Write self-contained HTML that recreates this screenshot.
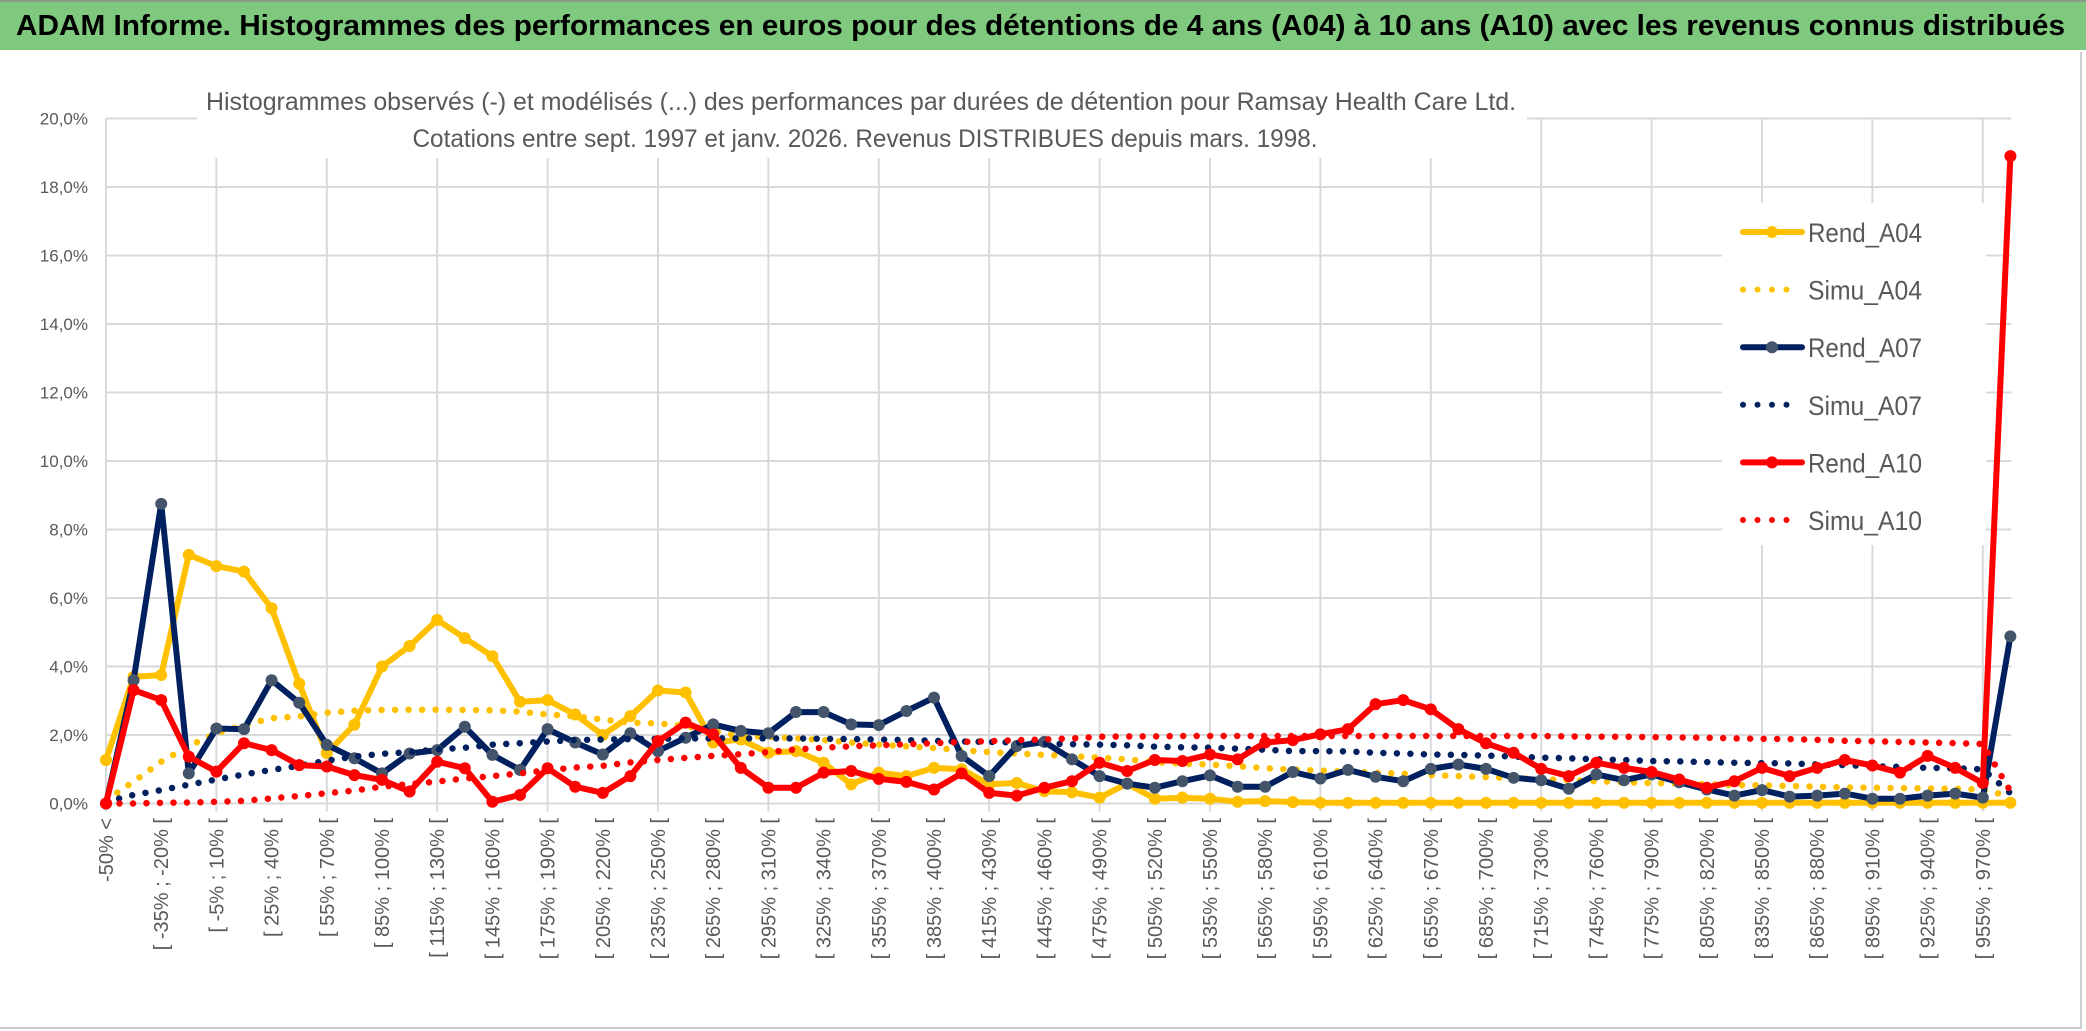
<!DOCTYPE html>
<html><head><meta charset="utf-8">
<style>
html,body{margin:0;padding:0;background:#fff;}
body{width:2086px;height:1031px;overflow:hidden;position:relative;font-family:"Liberation Sans",sans-serif;}
#titlebar{position:absolute;left:0;top:0;width:2086px;height:50px;background:#7ec97e;border-top:2px solid #8a9a8a;box-sizing:border-box;}
#chartbox{position:absolute;left:0;top:52px;width:2082px;height:977px;border-right:2px solid #d0d0d0;border-bottom:2px solid #c8c8c8;box-sizing:border-box;}
svg{position:absolute;left:0;top:0;}
</style></head>
<body>
<div id="titlebar"></div>
<div id="chartbox"></div>
<svg id="chart" width="2086" height="1031">
<text x="16" y="35" font-family="Liberation Sans, sans-serif" font-weight="bold" font-size="29" fill="#000" textLength="2049" lengthAdjust="spacingAndGlyphs">ADAM Informe. Histogrammes des performances en euros pour des détentions de 4 ans (A04) à 10 ans (A10) avec les revenus connus distribués</text>
</svg>
<script>
const categories = (function(){ const c=["-50% <"]; for(let i=1;i<70;i++){ if(i===69){c.push("> 970%");} else {const a=-50+15*(i-1); c.push("[ "+a+"% ; "+(a+15)+"% [");} } return c; })();
const yTicks = [0,2,4,6,8,10,12,14,16,18,20];
const yTickLabels = ["0,0%","2,0%","4,0%","6,0%","8,0%","10,0%","12,0%","14,0%","16,0%","18,0%","20,0%"];
const rendA04 = [1.27,3.7,3.75,7.26,6.93,6.77,5.7,3.5,1.47,2.3,4.0,4.6,5.36,4.83,4.3,2.97,3.02,2.6,2.0,2.55,3.3,3.24,1.78,1.87,1.48,1.53,1.19,0.56,0.9,0.8,1.04,1.0,0.56,0.6,0.36,0.33,0.17,0.58,0.14,0.17,0.14,0.05,0.07,0.04,0.02,0.02,0.02,0.02,0.02,0.02,0.02,0.02,0.02,0.02,0.02,0.02,0.02,0.02,0.02,0.02,0.02,0.02,0.02,0.02,0.02,0.02,0.02,0.02,0.02,0.02];
const simuA04 = [0.1,0.64,1.22,1.68,2.05,2.29,2.49,2.54,2.65,2.71,2.73,2.74,2.74,2.73,2.72,2.68,2.6,2.55,2.45,2.36,2.34,2.26,2.12,1.97,1.95,1.9,1.85,1.78,1.72,1.67,1.62,1.56,1.5,1.46,1.42,1.38,1.34,1.29,1.21,1.16,1.14,1.09,1.03,0.99,0.96,0.93,0.9,0.87,0.83,0.8,0.77,0.74,0.71,0.68,0.65,0.62,0.6,0.58,0.56,0.54,0.53,0.51,0.49,0.47,0.46,0.45,0.44,0.43,0.41,0.2];
const rendA07 = [0,3.6,8.75,0.88,2.19,2.17,3.6,2.94,1.71,1.32,0.88,1.46,1.56,2.24,1.42,0.98,2.17,1.78,1.43,2.05,1.53,1.92,2.31,2.12,2.05,2.67,2.67,2.31,2.29,2.7,3.09,1.39,0.8,1.68,1.8,1.29,0.8,0.58,0.46,0.65,0.82,0.49,0.49,0.92,0.73,0.98,0.78,0.65,1.01,1.14,1.01,0.75,0.68,0.43,0.85,0.68,0.85,0.62,0.41,0.23,0.39,0.2,0.23,0.29,0.14,0.14,0.23,0.29,0.17,4.88];
const simuA07 = [0.05,0.25,0.39,0.55,0.7,0.85,0.98,1.1,1.25,1.37,1.45,1.5,1.58,1.63,1.72,1.76,1.81,1.85,1.87,1.88,1.89,1.9,1.9,1.9,1.9,1.9,1.89,1.88,1.87,1.85,1.83,1.81,1.8,1.78,1.75,1.73,1.72,1.7,1.66,1.64,1.63,1.6,1.57,1.53,1.53,1.52,1.48,1.46,1.43,1.42,1.4,1.37,1.34,1.32,1.29,1.27,1.24,1.23,1.21,1.19,1.18,1.17,1.14,1.12,1.09,1.07,1.04,1.03,1.0,0.3];
const rendA10 = [0,3.31,3.02,1.37,0.93,1.76,1.56,1.12,1.08,0.83,0.69,0.35,1.22,1.03,0.05,0.25,1.03,0.49,0.31,0.8,1.82,2.36,2.02,1.04,0.46,0.46,0.9,0.95,0.72,0.63,0.41,0.88,0.31,0.23,0.46,0.65,1.19,0.95,1.27,1.24,1.43,1.29,1.78,1.85,2.02,2.17,2.9,3.02,2.75,2.17,1.76,1.48,1.01,0.8,1.19,1.04,0.92,0.7,0.46,0.65,1.04,0.8,1.04,1.27,1.11,0.9,1.39,1.04,0.6,18.9];
const simuA10 = [0,0,0.02,0.03,0.05,0.08,0.15,0.22,0.3,0.38,0.49,0.57,0.64,0.73,0.8,0.88,0.97,1.05,1.1,1.2,1.27,1.33,1.39,1.44,1.5,1.58,1.63,1.67,1.7,1.73,1.76,1.8,1.82,1.85,1.87,1.9,1.95,1.96,1.96,1.97,1.97,1.97,1.97,1.97,1.97,1.97,1.97,1.97,1.97,1.97,1.97,1.97,1.97,1.96,1.95,1.95,1.94,1.93,1.92,1.9,1.89,1.88,1.86,1.83,1.82,1.8,1.78,1.76,1.74,0.36];
const seriesNames = ["Rend_A04","Simu_A04","Rend_A07","Simu_A07","Rend_A10","Simu_A10"];

const NS="http://www.w3.org/2000/svg";
const svg=document.getElementById('chart');
const X0=106, DX=27.6, Y0=803.5, PY=34.25;
function xPos(i){return X0+DX*i;}
function yPos(v){return Y0-PY*v;}
function mk(tag,attrs,parent){const e=document.createElementNS(NS,tag);for(const k in attrs)e.setAttribute(k,attrs[k]);(parent||svg).appendChild(e);return e;}

const grid=mk('g',{});


yTicks.forEach(function(t){
  const l=mk('line',{x1:X0,x2:xPos(69)+1,y1:yPos(t),y2:yPos(t),stroke:'#d9d9d9','stroke-width':2},grid);
  
  
});
for(let i=0;i<=68;i+=4){
  const l=mk('line',{x1:xPos(i),x2:xPos(i),y1:yPos(20),y2:Y0+8,stroke:'#d9d9d9','stroke-width':2},grid);
  
  
}
yTicks.forEach(function(t,k){
  const tx=mk('text',{x:88,y:yPos(t)+6,'text-anchor':'end','font-size':17,fill:'#595959','font-family':'Liberation Sans, sans-serif'});
  tx.textContent=yTickLabels[k];
  
  
});
categories.forEach(function(c,i){
  if(i%2!==0) return;
  const x=xPos(i)+7, y=818;
  const tx=mk('text',{x:x,y:y,transform:'rotate(-90 '+x+' '+y+')','text-anchor':'end','font-size':20,fill:'#595959','font-family':'Liberation Sans, sans-serif'});
  tx.textContent=c;
  
  
});
const sb=mk('rect',{x:197,y:70,width:1330,height:88,fill:'#fff'});


const s1=mk('text',{x:861,y:110,'text-anchor':'middle','font-size':25,fill:'#595959',textLength:1310,lengthAdjust:'spacingAndGlyphs','font-family':'Liberation Sans, sans-serif'});
s1.textContent="Histogrammes observés (-) et modélisés (...) des performances par durées de détention pour Ramsay Health Care Ltd.";


const s2=mk('text',{x:865,y:147,'text-anchor':'middle','font-size':25,fill:'#595959',textLength:905,lengthAdjust:'spacingAndGlyphs','font-family':'Liberation Sans, sans-serif'});
s2.textContent="Cotations entre sept. 1997 et janv. 2026. Revenus DISTRIBUES depuis mars. 1998.";



const lb=mk('rect',{x:1722,y:203,width:264,height:342,fill:'#fff'});



function pts(arr){return arr.map(function(v,i){return xPos(i).toFixed(1)+','+yPos(v).toFixed(1);}).join(' ');}
function solid(arr,color,markerColor,name){
  const g=mk('g',{});
  
  
  mk('polyline',{points:pts(arr),fill:'none',stroke:color,'stroke-width':6,'stroke-linejoin':'round'},g);
  arr.forEach(function(v,i){
    const c=mk('circle',{cx:xPos(i),cy:yPos(v),r:6,fill:markerColor},g);
    
    
  });
}
function dotted(arr,color,name){
  const p=mk('polyline',{points:pts(arr),fill:'none',stroke:color,'stroke-width':6.5,'stroke-linecap':'round','stroke-dasharray':'0 13.5','stroke-linejoin':'round'});
  
  
}
solid(rendA04,'#ffc000','#ffc000','series-rend-a04');
dotted(simuA04,'#ffc000','series-simu-a04');
solid(rendA07,'#002060','#44546a','series-rend-a07');
dotted(simuA07,'#002060','series-simu-a07');
solid(rendA10,'#ff0000','#ff0000','series-rend-a10');
dotted(simuA10,'#ff0000','series-simu-a10');

const legColors=['#ffc000','#ffc000','#002060','#002060','#ff0000','#ff0000'];
const legMarker=['#ffc000',null,'#44546a',null,'#ff0000',null];
seriesNames.forEach(function(n,k){
  const y=232+57.6*k;
  const g=mk('g',{});
  
  
  if(legMarker[k]){
    mk('line',{x1:1743,x2:1802,y1:y,y2:y,stroke:legColors[k],'stroke-width':6,'stroke-linecap':'round'},g);
    mk('circle',{cx:1772,cy:y,r:6,fill:legMarker[k]},g);
  } else {
    mk('line',{x1:1743,x2:k===5?1800:1790,y1:y,y2:y,stroke:legColors[k],'stroke-width':6,'stroke-linecap':'round','stroke-dasharray':'0 14.5'},g);
  }
  const t=mk('text',{x:1808,y:y+10,'font-size':27,fill:'#595959',textLength:114,lengthAdjust:'spacingAndGlyphs','font-family':'Liberation Sans, sans-serif'},g);
  t.textContent=n;
});
</script>
</body></html>
